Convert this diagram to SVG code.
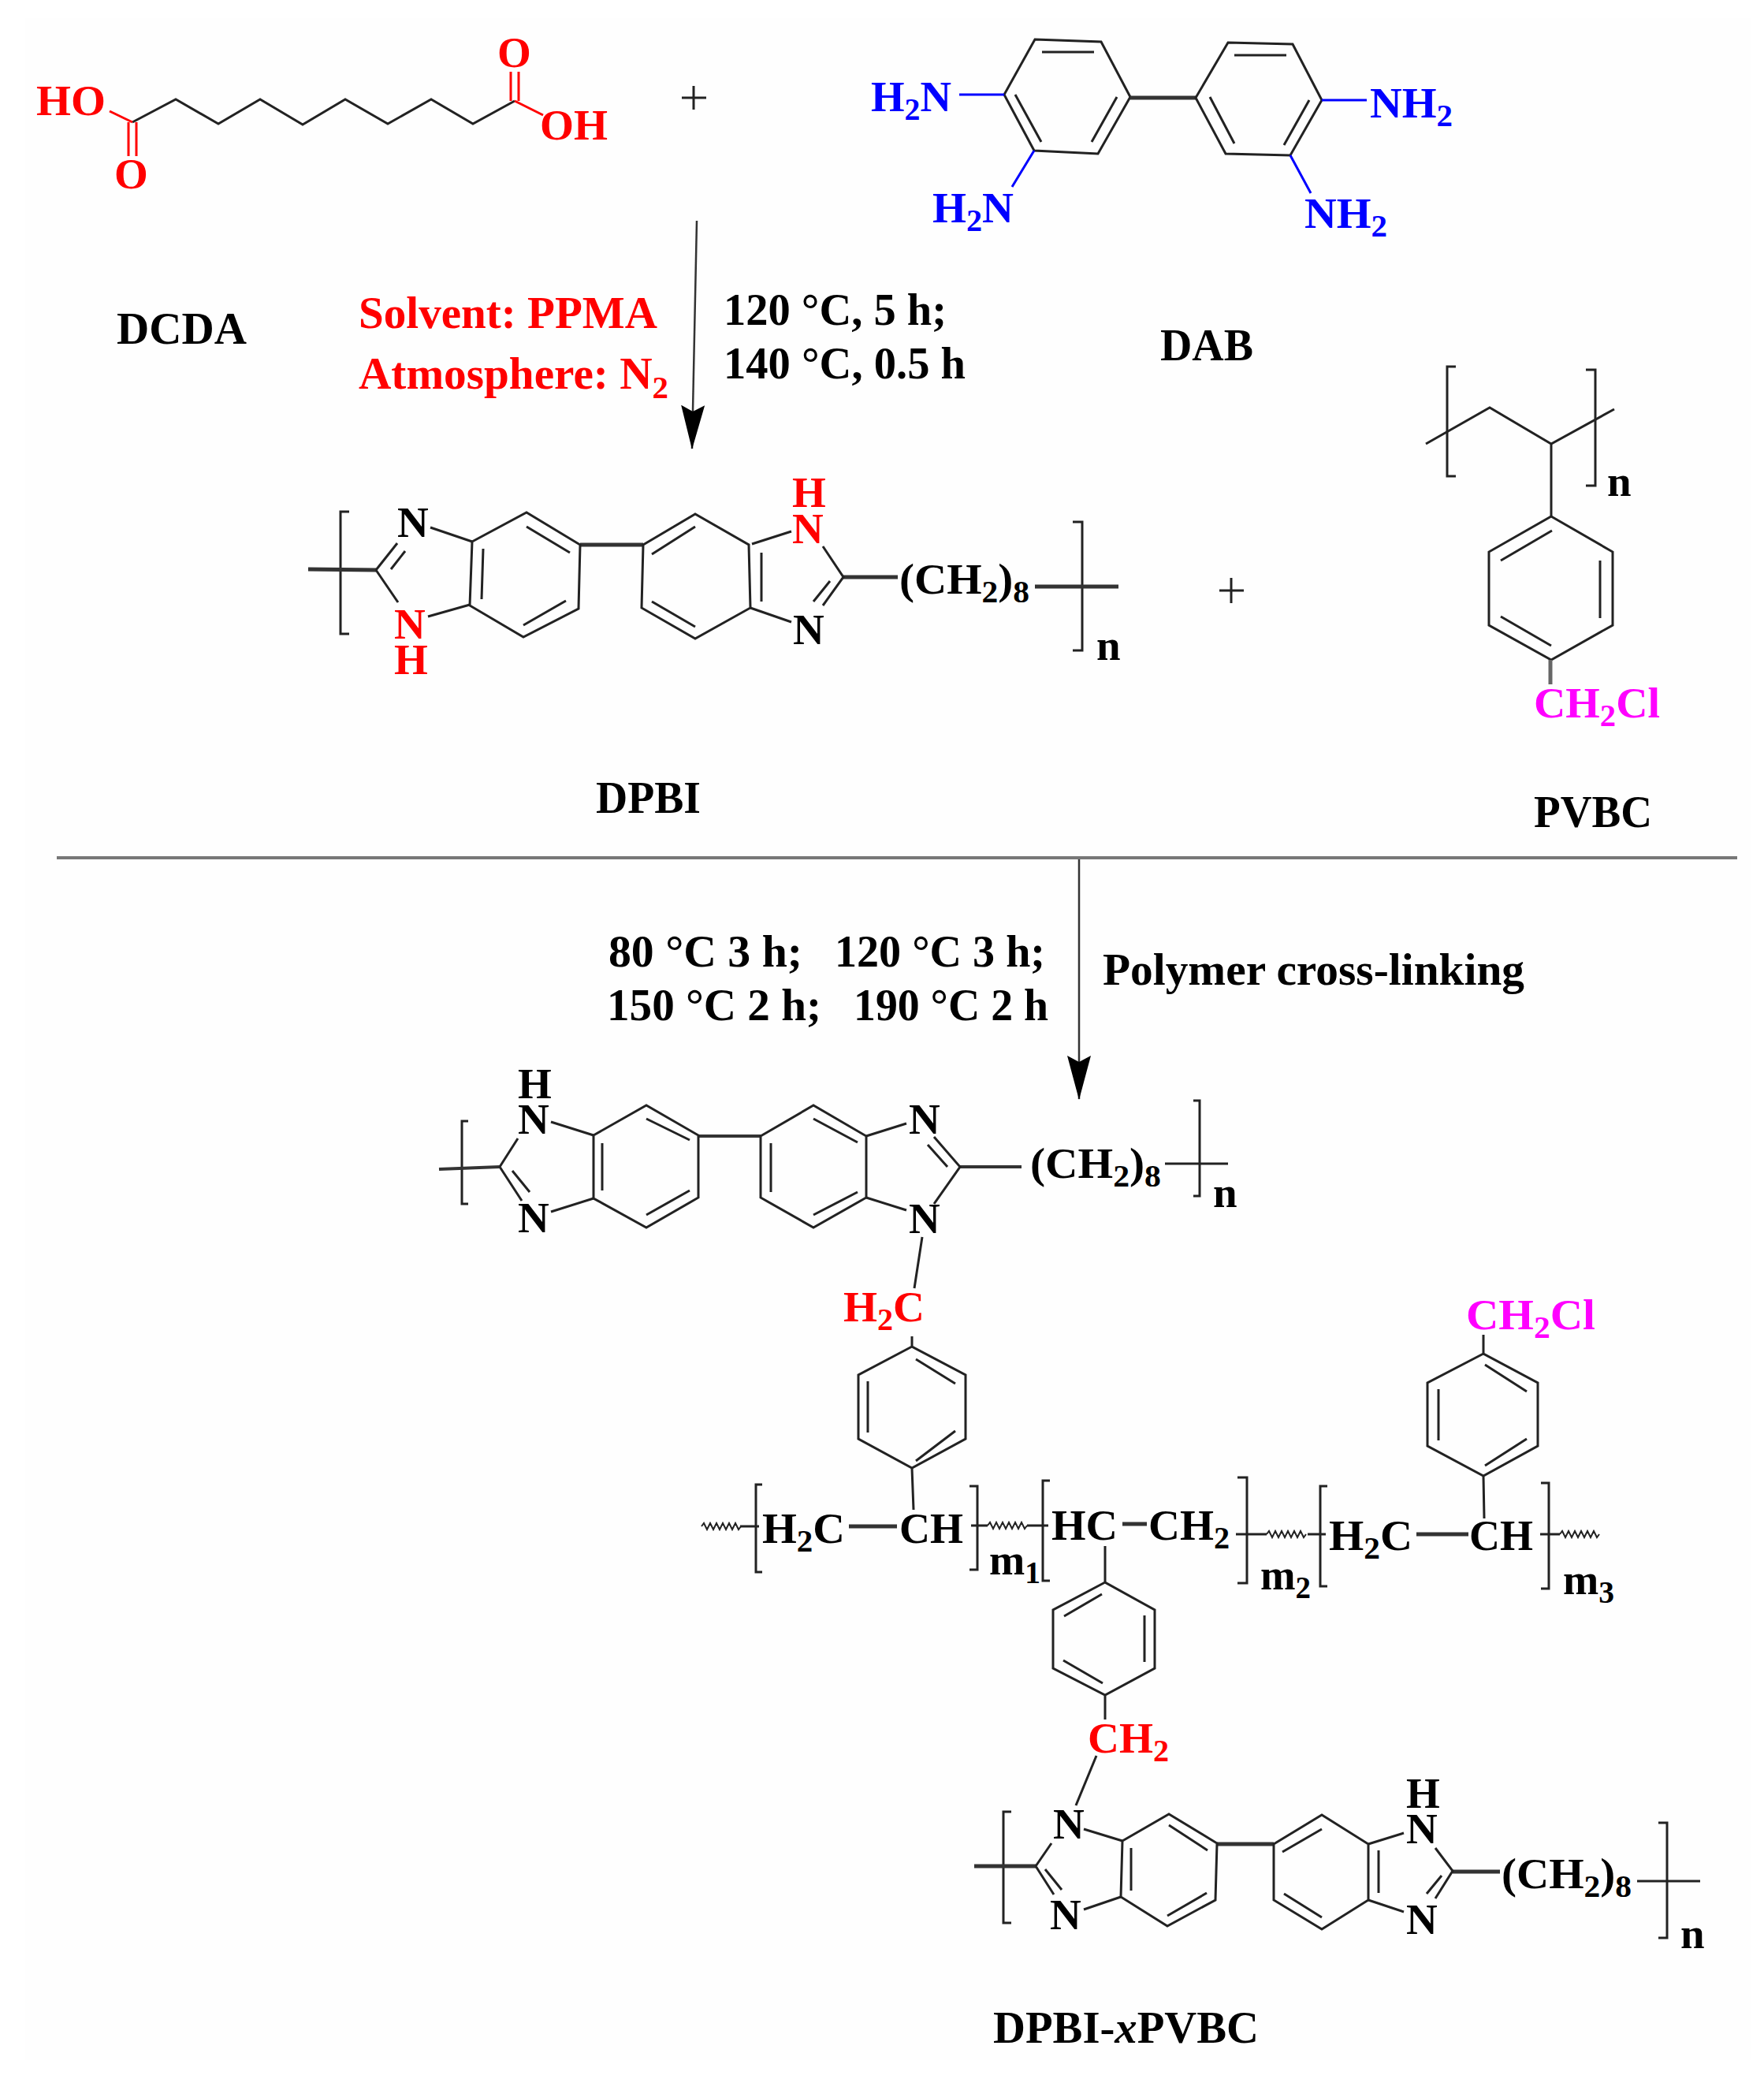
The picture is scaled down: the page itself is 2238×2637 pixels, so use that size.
<svg xmlns="http://www.w3.org/2000/svg" xmlns:xlink="http://www.w3.org/1999/xlink" width="2238" height="2637" viewBox="0 0 2238 2637">
<style>
text{font-family:"Liberation Serif","Times New Roman",serif;font-weight:bold;font-size:56px;fill:#000}
.s{font-size:40px}
.a{font-size:55px}
.r{fill:#f00}.u{fill:#00f}.m{fill:#f0f}
.b{fill:none;stroke:#222;stroke-width:3}
.t{fill:none;stroke:#333;stroke-width:5}
.br{fill:none;stroke:#f00;stroke-width:3}
.bu{fill:none;stroke:#00f;stroke-width:3}
.w{fill:none;stroke:#222;stroke-width:2}
</style>
<defs>
<path id="wave" d="M0 0l3-4 4 8 4-8 4 8 4-8 4 8 4-8 4 8 4-8 4 8 4-8 4 8 3-4"/>
<marker id="head" markerUnits="userSpaceOnUse" markerWidth="58" markerHeight="32" refX="55" refY="16" orient="auto"><path d="M0 1L8 16 0 31 56 16Z" fill="#000"/></marker>
</defs>
<rect width="2238" height="2637" fill="#fff"/>
<rect x="32" y="23" width="2190" height="2590" fill="#fefefe"/>

<g id="connectors">
<path d="M884 280L878 569" fill="none" stroke="#333" stroke-width="2.5" marker-end="url(#head)"/>
<path d="M1369 1088V1394" fill="none" stroke="#333" stroke-width="2.5" marker-end="url(#head)"/>
<path d="M72 1088H2204" fill="none" stroke="#777" stroke-width="4"/>
</g>

<g id="DCDA">
<path class="b" d="M168 155L223 126 277 157 330 126 384 158 438 126 492 157 547 126 600 157 653 128"/>
<path class="br" d="M139 141L168 155M163 155V198M173 155V198M648 128V91M658 128V91M653 128L689 146"/>
<text class="a r" x="46" y="146" textLength="88" lengthAdjust="spacingAndGlyphs">HO</text>
<text class="a r" x="631" y="85">O</text>
<text class="a r" x="145" y="239">O</text>
<text class="a r" x="685" y="177" textLength="86" lengthAdjust="spacingAndGlyphs">OH</text>
<text x="148" y="436" textLength="165" lengthAdjust="spacingAndGlyphs">DCDA</text>
</g>

<g id="plus-1"><path class="b" d="M865 124H896M880 109V139"/></g>

<g id="DAB">
<path class="b" d="M1313 50L1397 53 1434 123 1393 195 1312 191 1274 120ZM1322 66H1388M1288 120L1321 180M1417 123L1385 180"/>
<path class="t" d="M1434 124H1517"/>
<path class="b" d="M1558 54L1640 56 1677 127 1637 197 1555 195 1517 124ZM1566 70H1632M1535 123L1566 182M1661 127L1629 184"/>
<path class="bu" d="M1217 120H1274M1312 191L1284 237M1677 127H1734M1637 197L1663 245"/>
<text class="a u" x="1105" y="141" textLength="102" lengthAdjust="spacingAndGlyphs">H<tspan class="s" dy="11">2</tspan><tspan dy="-11">N</tspan></text>
<text class="a u" x="1183" y="282" textLength="103" lengthAdjust="spacingAndGlyphs">H<tspan class="s" dy="11">2</tspan><tspan dy="-11">N</tspan></text>
<text class="a u" x="1738" y="149" textLength="105" lengthAdjust="spacingAndGlyphs">NH<tspan class="s" dy="11">2</tspan></text>
<text class="a u" x="1655" y="289" textLength="105" lengthAdjust="spacingAndGlyphs">NH<tspan class="s" dy="11">2</tspan></text>
<text x="1472" y="457" textLength="118" lengthAdjust="spacingAndGlyphs">DAB</text>
</g>

<g id="conditions-1">
<text class="r" x="455" y="416" textLength="379" lengthAdjust="spacingAndGlyphs">Solvent: PPMA</text>
<text class="r" x="455" y="493" textLength="393" lengthAdjust="spacingAndGlyphs">Atmosphere: N<tspan class="s" dy="12">2</tspan></text>
<text x="918" y="412" textLength="283" lengthAdjust="spacingAndGlyphs">120 °C, 5 h;</text>
<text x="918" y="480" textLength="307" lengthAdjust="spacingAndGlyphs">140 °C, 0.5 h</text>
</g>

<g id="DPBI">
<path class="b" d="M443 649H432V804H443M1361 662H1373V825H1361"/>
<path class="t" d="M391 722L477 723M736 691H816M1070 732H1139M1313 744H1419"/>
<path class="b" d="M477 723L504 689M496 722L514 699M477 723L505 764M546 669L599 687M543 782L596 767"/>
<path class="b" d="M599 687L668 650 736 691 734 772 664 808 596 768ZM613 696L611 760M668 668L723 701M718 762L664 793"/>
<path class="b" d="M816 691L882 652 950 691 952 771 882 810 814 771ZM827 703L882 668M966 701V763M827 763L882 795"/>
<path class="b" d="M954 690L1004 674M1044 693L1070 732 1044 768M1053 737L1032 763M952 771L1004 789"/>
<text class="a" x="504" y="681">N</text>
<text class="a r" x="500" y="810">N</text>
<text class="a r" x="500" y="855">H</text>
<text class="a r" x="1005" y="689">N</text>
<text class="a r" x="1005" y="643">H</text>
<text class="a" x="1006" y="817">N</text>
<text class="a" x="1141" y="753" textLength="165" lengthAdjust="spacingAndGlyphs">(CH<tspan class="s" dy="11">2</tspan><tspan dy="-11">)</tspan><tspan class="s" dy="11">8</tspan></text>
<text class="a" x="1391" y="837">n</text>
<text x="756" y="1031" textLength="133" lengthAdjust="spacingAndGlyphs">DPBI</text>
</g>

<g id="plus-2"><path class="b" d="M1547 749H1578M1562 733V765"/></g>

<g id="PVBC">
<path class="b" d="M1847 465H1836V604H1847M2012 469H2024V616H2012"/>
<path class="b" d="M1809 563L1890 517 1968 563 2048 519M1968 563V655"/>
<path class="b" d="M1968 655L2046 700V793L1968 837 1889 793V700ZM1904 711L1969 673M2030 711V784M1904 782L1968 819"/>
<path class="t" d="M1967 837V868" style="stroke:#666"/>
<text class="a m" x="1946" y="910" textLength="160" lengthAdjust="spacingAndGlyphs">CH<tspan class="s" dy="11">2</tspan><tspan dy="-11">Cl</tspan></text>
<text class="a" x="2039" y="629">n</text>
<text x="1946" y="1049" textLength="150" lengthAdjust="spacingAndGlyphs">PVBC</text>
</g>

<g id="conditions-2">
<text x="772" y="1226" textLength="246" lengthAdjust="spacingAndGlyphs">80 °C 3 h;</text>
<text x="1059" y="1226" textLength="267" lengthAdjust="spacingAndGlyphs">120 °C 3 h;</text>
<text x="770" y="1294" textLength="272" lengthAdjust="spacingAndGlyphs">150 °C 2 h;</text>
<text x="1083" y="1294" textLength="247" lengthAdjust="spacingAndGlyphs">190 °C 2 h</text>
<text x="1399" y="1249" textLength="535" lengthAdjust="spacingAndGlyphs">Polymer cross-linking</text>
</g>

<g id="DPBI-upper-unit">
<path class="b" d="M594 1422H586V1527H594M1514 1396H1522V1517H1514"/>
<path class="t" d="M557 1483L634 1480M886 1441H965M1218 1480H1296" style="stroke-width:4"/>
<path class="b" d="M1478 1476H1558"/>
<path class="b" d="M634 1480L657 1444M634 1480L662 1523M650 1485L672 1512M699 1423L753 1440M699 1537L753 1520"/>
<path class="b" d="M753 1440L820 1402 886 1440V1519L820 1557 753 1520ZM764 1450V1510M820 1419L875 1446M875 1510L820 1541"/>
<path class="b" d="M965 1441L1032 1402 1099 1441V1519L1032 1557 965 1519ZM978 1450V1512M1032 1419L1088 1449M1088 1512L1032 1541"/>
<path class="b" d="M1099 1441L1150 1425M1185 1442L1218 1480 1185 1527M1177 1452L1202 1480M1099 1519L1150 1535M1170 1569L1160 1634"/>
<text class="a" x="657" y="1438">N</text>
<text class="a" x="657" y="1393">H</text>
<text class="a" x="657" y="1563">N</text>
<text class="a" x="1153" y="1438">N</text>
<text class="a" x="1153" y="1564">N</text>
<text class="a" x="1307" y="1494" textLength="166" lengthAdjust="spacingAndGlyphs">(CH<tspan class="s" dy="11">2</tspan><tspan dy="-11">)</tspan><tspan class="s" dy="11">8</tspan></text>
<text class="a" x="1539" y="1531">n</text>
<text class="a r" x="1070" y="1676" textLength="103" lengthAdjust="spacingAndGlyphs">H<tspan class="s" dy="11">2</tspan><tspan dy="-11">C</tspan></text>
</g>

<g id="crosslinked-backbone">
<path class="b" d="M1157 1695V1708L1225 1744V1825L1157 1862 1089 1825V1744L1157 1708M1162 1724L1212 1755M1101 1752V1817M1162 1853L1212 1815M1157 1862L1159 1915"/>
<path class="b" d="M967 1883H959V1994H967M1230 1885H1240V1991H1230M1332 1878H1323V2005H1332M1570 1874H1582V2008H1570M1684 1885H1675V2012H1684M1955 1881H1965V2015H1955"/>
<path class="t" d="M1077 1936H1138M1424 1933H1455M1797 1946H1863"/>
<path class="b" d="M939 1936H963M1232 1935H1253M1303 1935H1330M1568 1946H1607M1659 1946H1682M1954 1946H1979"/>
<use class="w" xlink:href="#wave" href="#wave" x="890" y="1936"/>
<use class="w" xlink:href="#wave" href="#wave" x="1253" y="1935"/>
<use class="w" xlink:href="#wave" href="#wave" x="1607" y="1946"/>
<use class="w" xlink:href="#wave" href="#wave" x="1979" y="1946"/>
<path class="b" d="M1882 1693V1717L1951 1754V1834L1882 1872 1811 1834V1754L1882 1717M1884 1731L1937 1765M1825 1762V1827M1884 1859L1937 1825M1882 1872L1883 1926"/>
<path class="b" d="M1402 1961V2007L1465 2042V2116L1402 2150 1336 2116V2042L1402 2007M1350 2050L1398 2022M1452 2049V2108M1349 2106L1399 2135M1402 2150V2181"/>
<text class="a" x="967" y="1957" textLength="105" lengthAdjust="spacingAndGlyphs">H<tspan class="s" dy="11">2</tspan><tspan dy="-11">C</tspan></text>
<text class="a" x="1141" y="1957" textLength="81" lengthAdjust="spacingAndGlyphs">CH</text>
<text class="a" x="1255" y="1997" textLength="65" lengthAdjust="spacingAndGlyphs">m<tspan class="s" dy="11">1</tspan></text>
<text class="a" x="1334" y="1953" textLength="84" lengthAdjust="spacingAndGlyphs">HC</text>
<text class="a" x="1457" y="1953" textLength="103" lengthAdjust="spacingAndGlyphs">CH<tspan class="s" dy="11">2</tspan></text>
<text class="a" x="1599" y="2016" textLength="64" lengthAdjust="spacingAndGlyphs">m<tspan class="s" dy="11">2</tspan></text>
<text class="a" x="1686" y="1966" textLength="106" lengthAdjust="spacingAndGlyphs">H<tspan class="s" dy="11">2</tspan><tspan dy="-11">C</tspan></text>
<text class="a" x="1864" y="1966" textLength="81" lengthAdjust="spacingAndGlyphs">CH</text>
<text class="a" x="1983" y="2022" textLength="65" lengthAdjust="spacingAndGlyphs">m<tspan class="s" dy="11">3</tspan></text>
<text class="a m" x="1860" y="1686" textLength="164" lengthAdjust="spacingAndGlyphs">CH<tspan class="s" dy="11">2</tspan><tspan dy="-11">Cl</tspan></text>
<text class="a r" x="1380" y="2223" textLength="103" lengthAdjust="spacingAndGlyphs">CH<tspan class="s" dy="11">2</tspan></text>
</g>

<g id="DPBI-lower-unit">
<path class="b" d="M1283 2298H1273V2439H1283M2104 2312H2115V2458H2104"/>
<path class="t" d="M1236 2367H1314M1544 2339H1616M1843 2374H1903"/>
<path class="b" d="M2077 2386H2157M1391 2227L1365 2290"/>
<path class="b" d="M1314 2367L1334 2338M1314 2367L1337 2403M1326 2371L1347 2397M1375 2320L1424 2335M1375 2422L1422 2406"/>
<path class="b" d="M1424 2335L1483 2301 1544 2338 1542 2410 1481 2443 1422 2406ZM1435 2344V2398M1483 2315L1532 2347M1531 2401L1481 2430"/>
<path class="b" d="M1616 2339L1677 2302 1736 2339V2410L1677 2447 1616 2410ZM1627 2349L1677 2320M1749 2347V2401M1629 2402L1677 2432"/>
<path class="b" d="M1736 2339L1781 2325M1821 2344L1843 2373 1821 2408M1829 2379L1810 2402M1736 2410L1781 2425"/>
<text class="a" x="1336" y="2332">N</text>
<text class="a" x="1332" y="2447">N</text>
<text class="a" x="1784" y="2338">N</text>
<text class="a" x="1784" y="2293">H</text>
<text class="a" x="1784" y="2453">N</text>
<text class="a" x="1905" y="2395" textLength="165" lengthAdjust="spacingAndGlyphs">(CH<tspan class="s" dy="11">2</tspan><tspan dy="-11">)</tspan><tspan class="s" dy="11">8</tspan></text>
<text class="a" x="2132" y="2471">n</text>
<text x="1260" y="2591" textLength="337" lengthAdjust="spacingAndGlyphs">DPBI-<tspan font-style="italic">x</tspan>PVBC</text>
</g>
</svg>
